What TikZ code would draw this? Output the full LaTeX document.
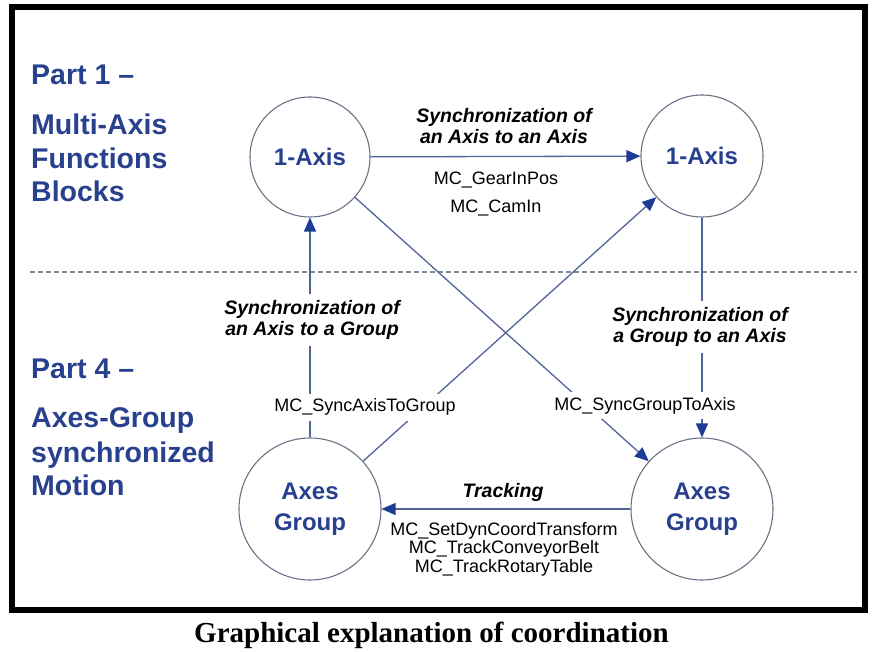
\documentclass[tikz,border=0pt]{standalone}
\usepackage{fontspec}
\setmainfont{Liberation Serif}
\setsansfont{Liberation Sans}
\usetikzlibrary{arrows.meta}

\definecolor{partblue}{RGB}{40,64,142}
\definecolor{tipblue}{RGB}{30,60,150}
\definecolor{linkblue}{RGB}{82,100,152}
\definecolor{ringgray}{RGB}{105,115,135}
\definecolor{dashgray}{RGB}{125,140,155}

\tikzset{
	part_text/.style	= {anchor=base west, inner sep=0pt, text=partblue, font=\sffamily\bfseries\fontsize{28.5}{33}\selectfont},
	ring/.style			= {circle, draw=ringgray, line width=1.1pt, fill=white, text=partblue, align=center, font=\sffamily\bfseries\fontsize{24}{31}\selectfont},
	sync_label/.style	= {fill=white, align=center, inner xsep=3pt, inner ysep=6pt, font=\sffamily\bfseries\itshape\fontsize{19.5}{21}\selectfont},
	fb_label/.style		= {fill=white, anchor=base, inner xsep=2pt, inner ysep=5pt, font=\sffamily\fontsize{18}{19}\selectfont},
	link/.style			= {draw=linkblue, line width=1.3pt, -{Triangle[length=14pt, width=12pt, color=tipblue]}}
}

\begin{document}
\begin{tikzpicture}[x=1pt, y=-1pt]
\useasboundingbox (0,0) rectangle (876,652);
\draw[line width=6pt] (11.5,7.5) rectangle (864.5,610);

\coordinate (sep_west) at (30,272);
\coordinate (sep_east) at (857,272);
\draw[dashgray, line width=1.2pt, dash pattern=on 5pt off 3pt] (sep_west) -- (sep_east);

\path	(31,85)		node(part_one)		[part_text]		{Part 1 --}
		(31,135)	node(multi_axis)	[part_text]		{Multi-Axis}
		(31,168.5)	node(functions)		[part_text]		{Functions}
		(31,202)	node(blocks)		[part_text]		{Blocks}
		(31,378)	node(part_four)		[part_text]		{Part 4 --}
		(31,428)	node(axes_group)	[part_text]		{Axes-Group}
		(31,462)	node(synchronized)	[part_text]		{synchronized}
		(31,495)	node(motion)		[part_text]		{Motion};

\path	(310,157)	node(axis_left)		[ring, minimum size=120pt]	{1-Axis}
		(702,156)	node(axis_right)	[ring, minimum size=122pt]	{1-Axis}
		(310,509)	node(group_left)	[ring, minimum size=142pt]	{Axes\\Group}
		(702,509)	node(group_right)	[ring, minimum size=142pt]	{Axes\\Group};

\draw[link]	(axis_left)		--	(axis_right);
\draw[link]	(group_left)	--	(axis_left);
\draw[link]	(group_left)	--	(axis_right);
\draw[link]	(axis_left)		--	(group_right);
\draw[link]	(axis_right)	--	(group_right);
\draw[link]	(group_right)	--	(group_left);

\path	(504,126)	node(sync_axis_axis)		[sync_label]				{Synchronization of\\an Axis to an Axis}
		(496,185)	node(gear_in_pos)			[fb_label]					{MC\_GearInPos}
		(496,213)	node(cam_in)				[fb_label]					{MC\_CamIn}
		(312,320)	node(sync_axis_group)		[sync_label]				{Synchronization of\\an Axis to a Group}
		(365,412)	node(sync_axis_to_group)	[fb_label]					{MC\_SyncAxisToGroup}
		(700,327)	node(sync_group_axis)		[sync_label]				{Synchronization of\\a Group to an Axis}
		(645,410)	node(sync_group_to_axis)	[fb_label]					{MC\_SyncGroupToAxis}
		(503,497)	node(tracking)				[sync_label, anchor=base]	{Tracking}
		(504,535)	node(set_dyn_coord)			[fb_label, fill=none]		{MC\_SetDynCoordTransform}
		(504,553.5)	node(track_belt)			[fb_label, fill=none]		{MC\_TrackConveyorBelt}
		(504,572)	node(track_table)			[fb_label, fill=none]		{MC\_TrackRotaryTable};

\path	(431.5,642)	node(caption)	[anchor=base, font=\rmfamily\bfseries\fontsize{29}{34}\selectfont]	{Graphical explanation of coordination};
\end{tikzpicture}
\end{document}
